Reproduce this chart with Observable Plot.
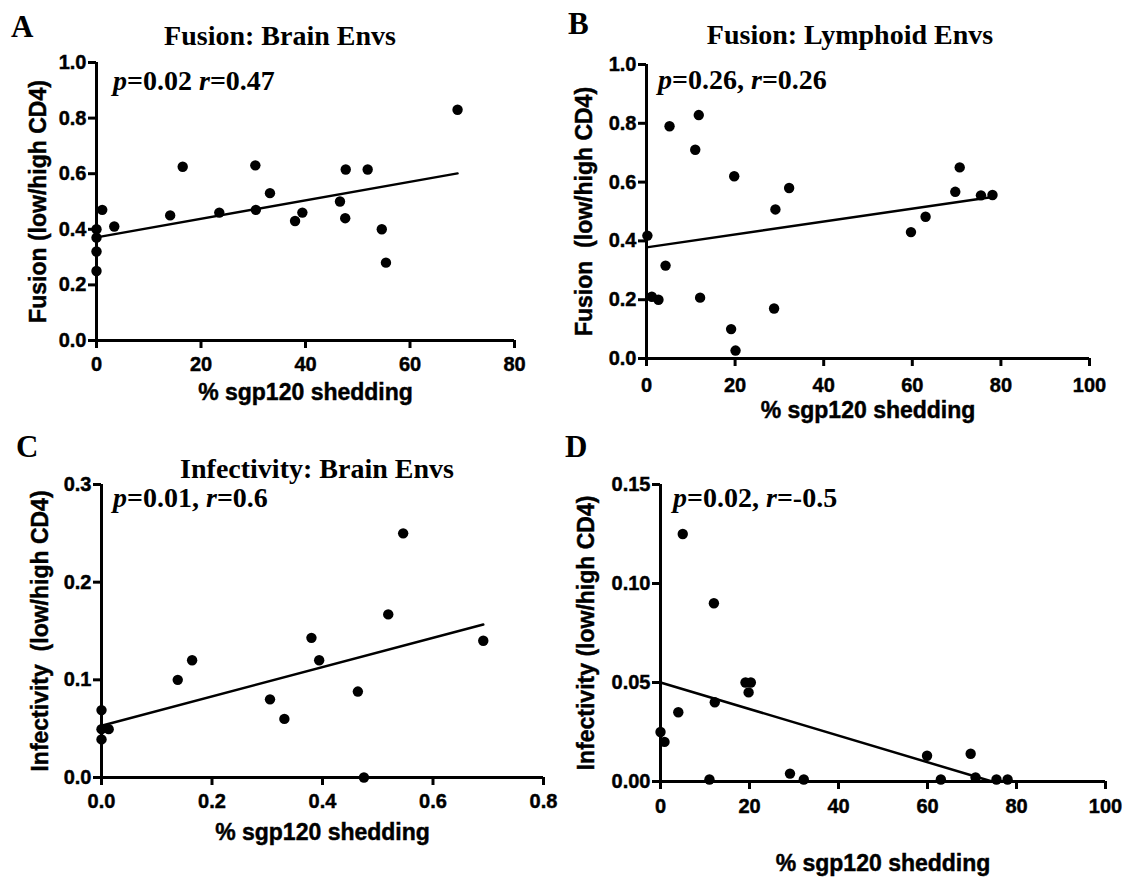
<!DOCTYPE html>
<html><head><meta charset="utf-8">
<script src="https://cdn.jsdelivr.net/npm/d3@7"></script>
<script src="https://cdn.jsdelivr.net/npm/@observablehq/plot@0.6"></script>
<style>
body{margin:0;background:#fff;}
#fig{position:relative;width:1128px;height:877px;overflow:hidden;background:#fff;}
.panel{position:absolute;}
#overlay{position:absolute;left:0;top:0;pointer-events:none;}
#fig .panel svg text{stroke:#000;stroke-width:0.45px;}
</style></head><body><div id="fig"></div>
<script>
// ---- Panel A: Fusion, Brain Envs ----
const fusionBrainShed  = [0,0,0,0,1.1,3.4,14.1,16.5,23.5,30.4,30.5,33.2,38.0,39.4,46.6,47.6,47.7,51.9,54.6,55.4,69.1];
const fusionBrainRatio = [0.40,0.37,0.32,0.25,0.47,0.41,0.45,0.625,0.46,0.63,0.47,0.53,0.43,0.46,0.50,0.44,0.615,0.615,0.40,0.28,0.83];
const fusionBrainFit   = [0.371, 0.00333]; // intercept, slope

// ---- Panel B: Fusion, Lymphoid Envs ----
const fusionLymphShed  = [0.2,1.2,2.7,4.3,5.2,11.0,11.8,12.1,19.1,19.8,20.1,28.8,29.1,32.2,59.7,63.0,69.7,70.7,75.5,78.1];
const fusionLymphRatio = [0.418,0.21,0.20,0.316,0.79,0.71,0.828,0.207,0.10,0.62,0.027,0.17,0.507,0.58,0.43,0.482,0.567,0.65,0.555,0.556];
const fusionLymphFit   = [0.378, 0.00219];

// ---- Panel C: Infectivity, Brain Envs ----
const infBrainShed  = [0,0,0,0.013,0.138,0.164,0.305,0.331,0.380,0.394,0.464,0.475,0.519,0.546,0.691];
const infBrainRatio = [0.069,0.0495,0.039,0.0495,0.10,0.12,0.08,0.06,0.143,0.12,0.088,0.0,0.167,0.25,0.14];
const infBrainFit   = [0.053, 0.150];

// ---- Panel D: Infectivity, Lymphoid Envs ----
const infLymphShed  = [0,0.9,4.0,5.0,11.0,12.0,12.2,19.1,20.3,19.8,29.1,32.2,59.9,63.0,69.7,70.8,75.5,78.0];
const infLymphRatio = [0.025,0.020,0.035,0.125,0.001,0.090,0.040,0.050,0.050,0.045,0.004,0.001,0.013,0.001,0.014,0.002,0.001,0.001];
const infLymphFit   = [0.050, -0.000671];

// ---- Tick labels ----
const ticksX80  = [0,20,40,60,80];
const ticksX100 = [0,20,40,60,80,100];
const ticksX08  = [0,0.2,0.4,0.6,0.8];
const ticksY1   = [0,0.2,0.4,0.6,0.8,1.0];
const ticksY03  = [0,0.1,0.2,0.3];
const ticksY015 = [0,0.05,0.10,0.15];

// ---- Texts ----
const panelLetters = ["A","B","C","D"];
const panelTitles  = ["Fusion: Brain Envs","Fusion: Lymphoid Envs","Infectivity: Brain Envs",""];
const statP = ["0.02","0.26,","0.01,","0.02,"];
const statR = ["0.47","0.26","0.6","-0.5"];
const xLabels = ["% sgp120 shedding","% sgp120 shedding","% sgp120 shedding","% sgp120 shedding"];
const yLabels = ["Fusion (low/high CD4)","Fusion  (low/high CD4)","Infectivity  (low/high CD4)","Infectivity (low/high CD4)"];

const panels = [
  {shed:fusionBrainShed, ratio:fusionBrainRatio, fit:fusionBrainFit, xd:[0,80], yd:[0,1], xt:ticksX80, yt:ticksY1, xf:"d", yf:".1f",
   left:0, top:0, w:560, h:425, ml:96, mr:46, mt:62, mb:85, xPad:8, xLabDy:52, yLabDx:-58},
  {shed:fusionLymphShed, ratio:fusionLymphRatio, fit:fusionLymphFit, xd:[0,100], yd:[0,1], xt:ticksX100, yt:ticksY1, xf:"d", yf:".1f",
   left:560, top:0, w:568, h:425, ml:86, mr:39, mt:64, mb:67, xPad:11, xLabDy:52, yLabDx:-62},
  {shed:infBrainShed, ratio:infBrainRatio, fit:infBrainFit, xd:[0,0.8], yd:[0,0.3], xt:ticksX08, yt:ticksY03, xf:".1f", yf:".1f",
   left:0, top:425, w:560, h:452, ml:101, mr:17, mt:59, mb:100, xPad:8, xLabDy:55, yLabDx:-61},
  {shed:infLymphShed, ratio:infLymphRatio, fit:infLymphFit, xd:[0,100], yd:[0,0.15], xt:ticksX100, yt:ticksY015, xf:"d", yf:".2f",
   left:560, top:425, w:568, h:452, ml:100, mr:23, mt:59, mb:96, xPad:9, xLabDy:82, yLabDx:-74}
];

const fig = document.getElementById("fig");
const SANS = "'Liberation Sans', Arial, sans-serif";

panels.forEach((p, i) => {
  const rows = p.shed.map((x, j) => ({x, y: p.ratio[j]}));
  const [b, m] = p.fit;
  let xend = d3.max(p.shed);
  if (m < 0) xend = Math.min(xend, -b / m);
  const fitRows = [{x: 0, y: b}, {x: xend, y: b + m * xend}];
  const chart = Plot.plot({
    width: p.w, height: p.h,
    marginLeft: p.ml, marginRight: p.mr, marginTop: p.mt, marginBottom: p.mb,
    x: {domain: p.xd}, y: {domain: p.yd},
    style: {fontFamily: SANS, fontSize: "20px", fontWeight: "bold", color: "#000", background: "transparent", overflow: "visible"},
    marks: [
      Plot.axisY({ticks: p.yt, tickFormat: d3.format(p.yf), tickSize: 8, tickPadding: 2, strokeWidth: 3, label: null}),
      Plot.axisX({ticks: p.xt, tickFormat: d3.format(p.xf), tickSize: 8, tickPadding: p.xPad, strokeWidth: 3, label: null}),
      Plot.ruleX([p.xd[0]], {strokeWidth: 3}),
      Plot.ruleY([p.yd[0]], {strokeWidth: 3}),
      Plot.line(fitRows, {x: "x", y: "y", strokeWidth: 2.5, stroke: "#000"}),
      Plot.dot(rows, {x: "x", y: "y", r: 5.2, fill: "#000", stroke: "none"}),
      Plot.text([xLabels[i]], {frameAnchor: "bottom", dy: p.xLabDy, fontSize: 23, fontWeight: "bold", fontFamily: SANS,
                               textAnchor: "middle", lineAnchor: "middle"}),
      Plot.text([yLabels[i]], {frameAnchor: "left", dx: p.yLabDx, rotate: -90, fontSize: 23, fontWeight: "bold", fontFamily: SANS,
                               textAnchor: "middle", lineAnchor: "middle"})
    ]
  });
  const div = document.createElement("div");
  div.className = "panel";
  div.style.left = p.left + "px";
  div.style.top = p.top + "px";
  div.appendChild(chart);
  fig.appendChild(div);
});

// ---- Overlay: panel letters, titles, statistics ----
const letterPos = [[11,37],[568,34],[16,457],[565,457]];
const titlePos  = [[280,45],[850,44],[317,478],[0,0]];
const statPos   = [[113,90],[658,89],[113,507],[673,507]];

const ov = d3.select(fig).append("svg").attr("id","overlay").attr("width",1128).attr("height",877)
  .style("font-family","'Liberation Serif','Times New Roman',serif").style("font-weight","bold");

panelLetters.forEach((t, i) => {
  ov.append("text").attr("x", letterPos[i][0]).attr("y", letterPos[i][1]).attr("font-size", 31).text(t);
  if (panelTitles[i]) ov.append("text").attr("x", titlePos[i][0]).attr("y", titlePos[i][1])
    .attr("font-size", 28).attr("text-anchor", "middle").text(panelTitles[i]);
  const st = ov.append("text").attr("x", statPos[i][0]).attr("y", statPos[i][1]).attr("font-size", 28);
  st.append("tspan").attr("font-style", "italic").text("p");
  st.append("tspan").text("=" + statP[i] + " ");
  st.append("tspan").attr("font-style", "italic").text("r");
  st.append("tspan").text("=" + statR[i]);
});
</script></body></html>
